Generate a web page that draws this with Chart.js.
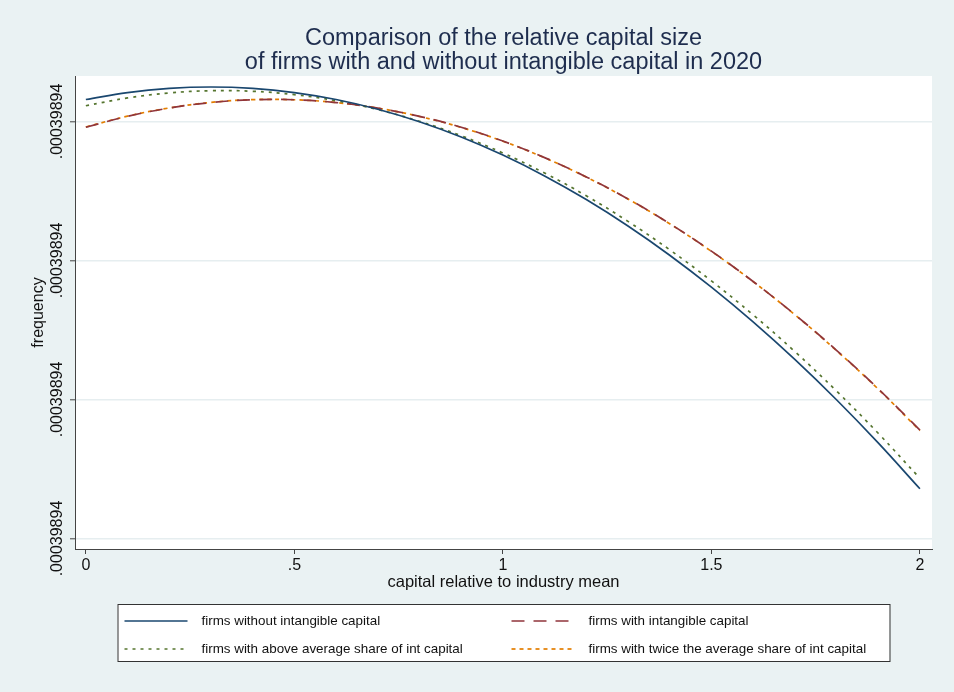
<!DOCTYPE html>
<html><head><meta charset="utf-8">
<script src="https://cdn.jsdelivr.net/npm/chart.js@4/dist/chart.umd.min.js"></script>
<style>html,body{margin:0;padding:0;background:#EAF2F3;overflow:hidden}</style>
</head><body>
<canvas id="c" width="954" height="692"></canvas>
<script>
// capital relative to industry mean
const xValues = [0, 0.1, 0.2, 0.3, 0.4, 0.5, 0.6, 0.7, 0.8, 0.9, 1.0, 1.1, 1.2, 1.3, 1.4, 1.5, 1.6, 1.7, 1.8, 1.9, 2.0];
// frequency (relative units between the .00039894 gridlines)
const withoutIntangible = [3.158, 3.208, 3.238, 3.248, 3.238, 3.208, 3.158, 3.088, 2.998, 2.888, 2.758, 2.608, 2.438, 2.248, 2.038, 1.808, 1.558, 1.288, 0.998, 0.688, 0.358];
const withIntangible = [2.958, 3.037, 3.096, 3.136, 3.156, 3.156, 3.136, 3.096, 3.037, 2.958, 2.859, 2.740, 2.601, 2.443, 2.265, 2.067, 1.849, 1.611, 1.354, 1.077, 0.780];
const aboveAverageShare = [3.113, 3.169, 3.205, 3.221, 3.217, 3.193, 3.149, 3.085, 3.001, 2.897, 2.773, 2.629, 2.465, 2.281, 2.077, 1.853, 1.609, 1.345, 1.061, 0.757, 0.433];
const twiceAverageShare = [2.960, 3.038, 3.097, 3.137, 3.157, 3.156, 3.136, 3.096, 3.036, 2.957, 2.858, 2.739, 2.600, 2.442, 2.264, 2.066, 1.848, 1.610, 1.352, 1.075, 0.776];
const seriesNames = ['firms without intangible capital', 'firms with intangible capital', 'firms with above average share of int capital', 'firms with twice the average share of int capital'];
const xTickValues = [0, 0.5, 1, 1.5, 2];
const xTickLabels = ['0', '.5', '1', '1.5', '2'];
const yTickValues = [0, 1, 2, 3];
const yTickLabels = ['.00039894', '.00039894', '.00039894', '.00039894'];
const titleLines = ['Comparison of the relative capital size', 'of firms with and without intangible capital in 2020'];

const FONT = "'Liberation Sans', Arial, Helvetica, sans-serif";
const toPts = arr => arr.map((v, i) => ({x: xValues[i], y: v}));

const bgPlugin = {
  id: 'bg',
  beforeDraw(chart) {
    const {ctx, chartArea: a} = chart;
    ctx.save();
    ctx.fillStyle = '#EAF2F3';
    ctx.fillRect(0, 0, chart.width, chart.height);
    ctx.fillStyle = '#FFFFFF';
    ctx.fillRect(a.left, a.top, a.right - a.left, a.bottom - a.top);
    ctx.restore();
  }
};

const titlePlugin = {
  id: 'plotTitle',
  afterDraw(chart) {
    const {ctx, chartArea: a} = chart;
    const cx = (a.left + a.right) / 2;
    ctx.save();
    ctx.fillStyle = '#1E2D4E';
    ctx.font = '23.5px ' + FONT;
    ctx.textAlign = 'center';
    ctx.textBaseline = 'alphabetic';
    titleLines.forEach((t, i) => ctx.fillText(t, cx, a.top - 31 + i * 24));
    ctx.restore();
  }
};

const yLabelPlugin = {
  id: 'ylabels',
  afterDraw(chart) {
    const {ctx, chartArea: a} = chart;
    const ys = chart.scales.y;
    ctx.save();
    ctx.fillStyle = '#111';
    ctx.font = '16px ' + FONT;
    ctx.textAlign = 'center';
    ctx.textBaseline = 'alphabetic';
    yTickValues.forEach((v, i) => {
      const py = ys.getPixelForValue(v);
      ctx.save();
      ctx.translate(a.left - 13.5, py);
      ctx.rotate(-Math.PI / 2);
      ctx.fillText(yTickLabels[i], 0, 0);
      ctx.restore();
    });
    ctx.restore();
  }
};

const legendPlugin = {
  id: 'customLegend',
  afterDraw(chart) {
    const {ctx, chartArea: a} = chart;
    const cx = (a.left + a.right) / 2;
    const w = 772, h = 57;
    const left = cx - w / 2, top = a.bottom + 55;
    ctx.save();
    ctx.fillStyle = '#FFFFFF';
    ctx.fillRect(left, top, w, h);
    ctx.strokeStyle = '#333';
    ctx.lineWidth = 1;
    ctx.strokeRect(left + 0.5, top + 0.5, w, h);
    const cols = [left + 7, left + 394];
    const rows = [top + 17, top + 45];
    ctx.font = '13.4px ' + FONT;
    ctx.textBaseline = 'middle';
    chart.data.datasets.forEach((ds, i) => {
      const col = cols[i % 2], row = rows[Math.floor(i / 2)];
      ctx.save();
      ctx.strokeStyle = ds.borderColor;
      ctx.lineWidth = ds.borderWidth;
      ctx.setLineDash(ds.borderDash || []);
      ctx.beginPath();
      ctx.moveTo(col, row);
      ctx.lineTo(col + 63, row);
      ctx.stroke();
      ctx.restore();
      ctx.fillStyle = '#111';
      ctx.fillText(ds.label, col + 77, row);
    });
    ctx.restore();
  }
};

new Chart(document.getElementById('c'), {
  type: 'line',
  data: {
    datasets: [
      {label: seriesNames[0], data: toPts(withoutIntangible), borderColor: '#1A476F', borderWidth: 1.7, borderDash: [], pointRadius: 0, tension: 0.4, fill: false},
      {label: seriesNames[1], data: toPts(withIntangible), borderColor: '#90353B', borderWidth: 1.7, borderDash: [13, 9], pointRadius: 0, tension: 0.4, fill: false},
      {label: seriesNames[2], data: toPts(aboveAverageShare), borderColor: '#55752F', borderWidth: 1.7, borderDash: [3, 5], pointRadius: 0, tension: 0.4, fill: false},
      {label: seriesNames[3], data: toPts(twiceAverageShare), borderColor: '#E37E00', borderWidth: 1.7, borderDash: [4, 4], pointRadius: 0, tension: 0.4, fill: false}
    ]
  },
  options: {
    responsive: false,
    animation: false,
    layout: {padding: {left: 0, right: 22, top: 76, bottom: 95}},
    plugins: {
      legend: {display: false},
      tooltip: {enabled: false},
      title: {display: false}
    },
    scales: {
      x: {
        type: 'linear',
        min: -0.026, max: 2.029,
        afterBuildTicks: s => { s.ticks = xTickValues.map(v => ({value: v})); },
        afterFit: s => { s.height = 48; },
        ticks: {
          font: {family: FONT, size: 16}, color: '#111', padding: 2,
          maxRotation: 0, minRotation: 0,
          callback: (v) => { const i = xTickValues.indexOf(v); return i >= 0 ? xTickLabels[i] : ''; }
        },
        grid: {drawOnChartArea: false, drawTicks: true, tickLength: 5, tickColor: '#444', tickWidth: 1},
        border: {display: true, color: '#444', width: 1},
        title: {display: true, text: 'capital relative to industry mean', color: '#111', font: {family: FONT, size: 16.5}, padding: {top: 0, bottom: 5}}
      },
      y: {
        type: 'linear',
        min: -0.0755, max: 3.327,
        afterBuildTicks: s => { s.ticks = yTickValues.map(v => ({value: v})); },
        afterFit: s => { s.width = 75; },
        ticks: {display: false},
        grid: {color: '#E6EEF0', lineWidth: 1.6, drawTicks: true, tickLength: 5, tickColor: '#444', tickWidth: 1},
        border: {display: true, color: '#444', width: 1},
        title: {display: true, text: 'frequency', color: '#111', font: {family: FONT, size: 16}, padding: {top: 29, bottom: 0}}
      }
    }
  },
  plugins: [bgPlugin, titlePlugin, yLabelPlugin, legendPlugin]
});
</script>
</body></html>
